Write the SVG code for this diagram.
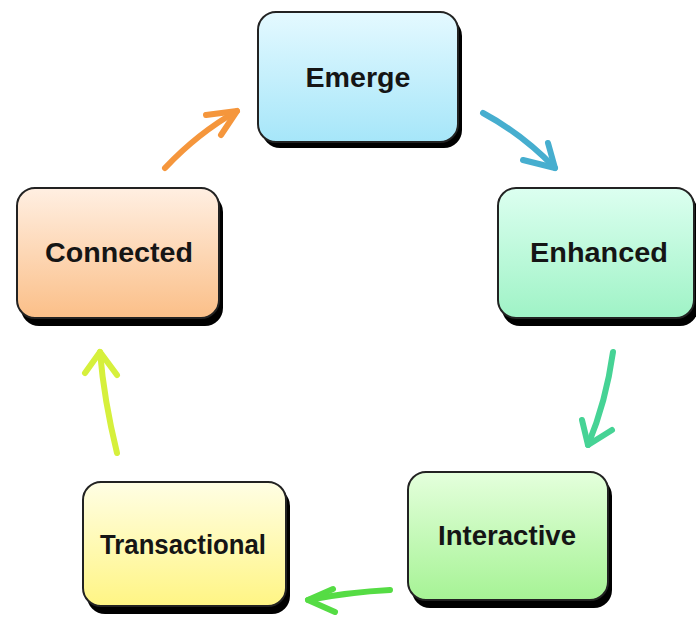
<svg xmlns="http://www.w3.org/2000/svg" width="696" height="618" viewBox="0 0 696 618">
<defs>
<linearGradient id="gBlue" x1="0" y1="0" x2="0" y2="1"><stop offset="0" stop-color="#e4f9ff"/><stop offset="1" stop-color="#a6e6f9"/></linearGradient>
<linearGradient id="gTeal" x1="0" y1="0" x2="0" y2="1"><stop offset="0" stop-color="#dcfff0"/><stop offset="1" stop-color="#9ff3c6"/></linearGradient>
<linearGradient id="gGreen" x1="0" y1="0" x2="0" y2="1"><stop offset="0" stop-color="#e4ffdc"/><stop offset="1" stop-color="#a6f395"/></linearGradient>
<linearGradient id="gYellow" x1="0" y1="0" x2="0" y2="1"><stop offset="0" stop-color="#fffee4"/><stop offset="1" stop-color="#fff584"/></linearGradient>
<linearGradient id="gOrange" x1="0" y1="0" x2="0" y2="1"><stop offset="0" stop-color="#ffefe2"/><stop offset="1" stop-color="#fbbf88"/></linearGradient>
</defs>
<style>
.shadow{fill:#000}
.box{stroke:#222;stroke-width:2}
.label{font-family:"Liberation Sans",Arial,sans-serif;font-weight:bold;font-size:27px;fill:#151515;text-anchor:middle}
.arrow{fill:none;stroke-width:6;stroke-linecap:round;stroke-linejoin:round}
</style>
<rect width="696" height="618" fill="#ffffff"/>
<g id="connectors">
<g class="arrow" stroke="#f5963c"><path d="M165,168 Q198,133 237,111"/><path d="M206,115 L237,111 L221,135"/></g>
<g class="arrow" stroke="#46aecf"><path d="M483,113 Q522,134 555,168"/><path d="M523,160 L555,168 L548,143"/></g>
<g class="arrow" stroke="#46d395"><path d="M613,352 Q606,402 588,445"/><path d="M582,420 L588,445 L612,430"/></g>
<g class="arrow" stroke="#55dc44"><path d="M390,590 Q350,592 308,600"/><path d="M333,589 L308,600 L335,612"/></g>
<g class="arrow" stroke="#d6f03c"><path d="M117,453 Q104,400 100,352"/><path d="M85,373 L100,352 L117,375"/></g>
</g>
<g id="emerge">
<rect class="shadow" x="262" y="18" width="200" height="130" rx="18"/>
<rect class="box" x="258" y="12" width="200" height="130" rx="18" fill="url(#gBlue)"/>
<text class="label" x="358" y="87" textLength="105" lengthAdjust="spacingAndGlyphs">Emerge</text>
</g>
<g id="enhanced">
<rect class="shadow" x="502" y="194" width="196" height="132" rx="18"/>
<rect class="box" x="498" y="188" width="196" height="130" rx="18" fill="url(#gTeal)"/>
<text class="label" x="599" y="262" textLength="138" lengthAdjust="spacingAndGlyphs">Enhanced</text>
</g>
<g id="interactive">
<rect class="shadow" x="412" y="478" width="200" height="130" rx="18"/>
<rect class="box" x="408" y="472" width="200" height="128" rx="18" fill="url(#gGreen)"/>
<text class="label" x="507" y="545" textLength="138" lengthAdjust="spacingAndGlyphs">Interactive</text>
</g>
<g id="transactional">
<rect class="shadow" x="87" y="488" width="203" height="126" rx="18"/>
<rect class="box" x="83" y="482" width="203" height="124" rx="18" fill="url(#gYellow)"/>
<text class="label" x="183" y="554" font-size="24" textLength="166" lengthAdjust="spacingAndGlyphs">Transactional</text>
</g>
<g id="connected">
<rect class="shadow" x="21" y="194" width="202" height="132" rx="18"/>
<rect class="box" x="17" y="188" width="202" height="130" rx="18" fill="url(#gOrange)"/>
<text class="label" x="119" y="262" textLength="148" lengthAdjust="spacingAndGlyphs">Connected</text>
</g>
</svg>
